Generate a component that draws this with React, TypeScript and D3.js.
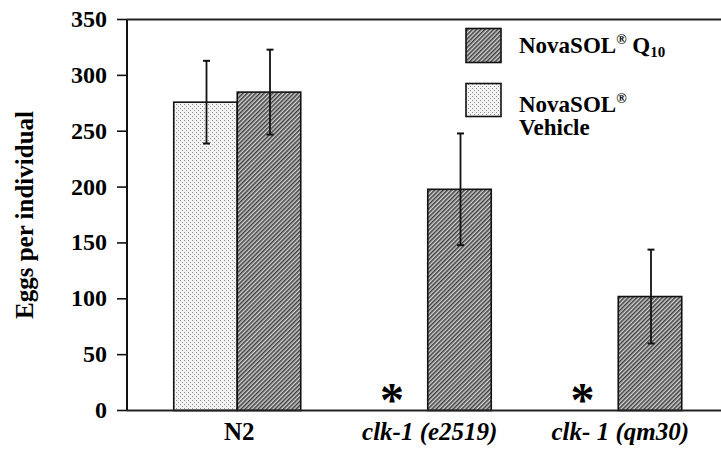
import { useEffect, useRef } from 'react'
import * as d3 from 'd3'

const groups = ['N2', 'clk-1 (e2519)', 'clk- 1 (qm30)']
const seriesKeys = ['vehicle', 'q10']
const vehicleMeans: (number | null)[] = [276, null, null]
const vehicleErr: (number | null)[] = [37, null, null]
const q10Means = [285, 198, 102]
const q10Err = [38, 50, 42]
const yTicks = [0, 50, 100, 150, 200, 250, 300, 350]

export default function App() {
    const svgRef = useRef<SVGSVGElement>(null)

    useEffect(() => {
        if (!svgRef.current) return
        const svg = d3.select(svgRef.current)
        svg.selectAll('*').remove()

        const W = 721
        const H = 452
        const axisX = 127
        const font = "'Liberation Serif', 'Times New Roman', 'DejaVu Serif', serif"

        svg.attr('width', W).attr('height', H)

        // patterns
        const defs = svg.append('defs')
        const hatch = defs.append('pattern')
            .attr('id', 'hatch')
            .attr('patternUnits', 'userSpaceOnUse')
            .attr('width', 3)
            .attr('height', 3)
            .attr('patternTransform', 'rotate(45)')
        hatch.append('rect').attr('width', 3).attr('height', 3).attr('fill', '#d4d4d4')
        hatch.append('line')
            .attr('x1', 0.8).attr('x2', 0.8).attr('y1', 0).attr('y2', 3)
            .attr('stroke', '#2e2e2e').attr('stroke-width', 1.4)

        const dots = defs.append('pattern')
            .attr('id', 'dots')
            .attr('patternUnits', 'userSpaceOnUse')
            .attr('width', 4)
            .attr('height', 4)
        dots.append('rect').attr('width', 4).attr('height', 4).attr('fill', '#f4f4f4')
        dots.append('rect').attr('x', 0).attr('y', 0).attr('width', 1).attr('height', 1).attr('fill', '#8a8a8a')
        dots.append('rect').attr('x', 2).attr('y', 2).attr('width', 1).attr('height', 1).attr('fill', '#8a8a8a')

        const y = d3.scaleLinear().domain([0, 350]).range([410.5, 19.5])
        const x0 = d3.scaleBand().domain(groups).range([142, 713.5]).padding(0)
        const x1 = d3.scaleBand().domain(seriesKeys).range([0, x0.bandwidth()]).paddingInner(0).paddingOuter(0.5)

        const rows = groups.map((g, i) => ({
            group: g,
            bars: [
                { key: 'vehicle', mean: vehicleMeans[i], err: vehicleErr[i] },
                { key: 'q10', mean: q10Means[i], err: q10Err[i] },
            ],
        }))

        const g = svg.append('g')

        rows.forEach(row => {
            row.bars.forEach(b => {
                const bx = x0(row.group)! + x1(b.key)!
                const bw = x1.bandwidth()
                if (b.mean === null) {
                    // asterisk where the vehicle value is missing
                    g.append('text')
                        .attr('x', bx + bw / 2 - 4)
                        .attr('y', y(0) + 5)
                        .attr('text-anchor', 'middle')
                        .style('font-family', font)
                        .style('font-weight', 'bold')
                        .style('font-size', '48px')
                        .text('*')
                    return
                }
                g.append('rect')
                    .attr('x', bx)
                    .attr('y', y(b.mean))
                    .attr('width', bw)
                    .attr('height', y(0) - y(b.mean))
                    .attr('fill', b.key === 'q10' ? 'url(#hatch)' : 'url(#dots)')
                    .attr('stroke', '#111')
                    .attr('stroke-width', 1.6)
            })
        })

        // error bars drawn on top
        rows.forEach(row => {
            row.bars.forEach(b => {
                if (b.mean === null || b.err === null) return
                const cx = x0(row.group)! + x1(b.key)! + x1.bandwidth() / 2 + 1
                const lo = y(b.mean - b.err)
                const hi = y(b.mean + b.err)
                g.append('line')
                    .attr('x1', cx).attr('x2', cx).attr('y1', lo).attr('y2', hi)
                    .attr('stroke', '#111').attr('stroke-width', 1.8)
                ;[lo, hi].forEach(v => {
                    g.append('line')
                        .attr('x1', cx - 3.5).attr('x2', cx + 3.5).attr('y1', v).attr('y2', v)
                        .attr('stroke', '#111').attr('stroke-width', 2)
                })
            })
        })

        // y axis
        g.append('line')
            .attr('x1', axisX).attr('x2', axisX).attr('y1', y(350)).attr('y2', y(0))
            .attr('stroke', '#111').attr('stroke-width', 2)
        // top frame line and baseline
        g.append('line')
            .attr('x1', axisX).attr('x2', W).attr('y1', y(350)).attr('y2', y(350))
            .attr('stroke', '#222').attr('stroke-width', 2)
        g.append('line')
            .attr('x1', axisX).attr('x2', W).attr('y1', y(0)).attr('y2', y(0))
            .attr('stroke', '#222').attr('stroke-width', 2)

        yTicks.forEach(t => {
            g.append('line')
                .attr('x1', axisX - 10).attr('x2', axisX).attr('y1', y(t)).attr('y2', y(t))
                .attr('stroke', '#111').attr('stroke-width', 1.6)
            g.append('text')
                .attr('x', axisX - 20)
                .attr('y', y(t) + 7.5)
                .attr('text-anchor', 'end')
                .style('font-family', font)
                .style('font-weight', 'bold')
                .style('font-size', '24px')
                .text(t)
        })

        g.append('text')
            .attr('transform', `translate(33, 215) rotate(-90)`)
            .attr('text-anchor', 'middle')
            .style('font-family', font)
            .style('font-weight', 'bold')
            .style('font-size', '25px')
            .text('Eggs per individual')

        // x labels
        groups.forEach((grp, i) => {
            g.append('text')
                .attr('x', x0(grp)! + x0.bandwidth() / 2 + 2)
                .attr('y', 440)
                .attr('text-anchor', 'middle')
                .style('font-family', font)
                .style('font-weight', 'bold')
                .style('font-style', i === 0 ? 'normal' : 'italic')
                .style('font-size', '25px')
                .text(grp)
        })

        // legend
        const legend = g.append('g')
        legend.append('rect')
            .attr('x', 466).attr('y', 28.5).attr('width', 35).attr('height', 34)
            .attr('fill', 'url(#hatch)').attr('stroke', '#111').attr('stroke-width', 1.6)
        legend.append('rect')
            .attr('x', 466).attr('y', 83.5).attr('width', 35).attr('height', 33)
            .attr('fill', 'url(#dots)').attr('stroke', '#111').attr('stroke-width', 1.6)

        const t1 = legend.append('text')
            .attr('x', 519).attr('y', 53)
            .style('font-family', font).style('font-weight', 'bold').style('font-size', '23px')
        t1.append('tspan').text('NovaSOL')
        t1.append('tspan').attr('dy', -9).style('font-size', '14px').text('®')
        t1.append('tspan').attr('dy', 9).text(' Q')
        t1.append('tspan').attr('dy', 4).style('font-size', '15px').text('10')

        const t2 = legend.append('text')
            .attr('x', 519).attr('y', 111.5)
            .style('font-family', font).style('font-weight', 'bold').style('font-size', '23px')
        t2.append('tspan').text('NovaSOL')
        t2.append('tspan').attr('dy', -9).style('font-size', '14px').text('®')
        legend.append('text')
            .attr('x', 519).attr('y', 135)
            .style('font-family', font).style('font-weight', 'bold').style('font-size', '23px')
            .text('Vehicle')
    }, [])

    return (
        <div style={{ position: 'absolute', left: 0, top: 0, background: '#fff' }}>
            <svg ref={svgRef} style={{ display: 'block' }}></svg>
        </div>
    )
}
